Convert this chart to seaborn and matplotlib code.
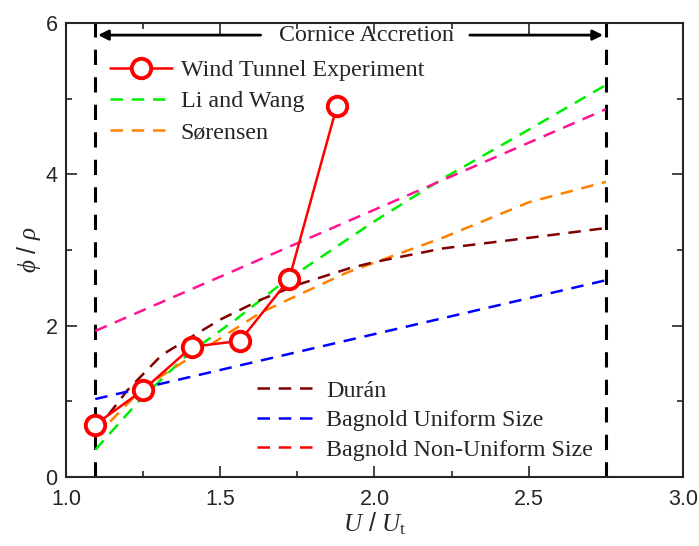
import matplotlib
matplotlib.use("Agg")
import matplotlib.pyplot as plt
import seaborn as sns
from matplotlib.lines import Line2D
from matplotlib.ticker import MultipleLocator, FormatStrFormatter

# wind tunnel measurements
exp_x = [1.094, 1.25, 1.408, 1.564, 1.723, 1.878]
exp_y = [0.69, 1.15, 1.72, 1.80, 2.61, 4.90]

# model curves
li_x = [1.095, 1.24, 1.40, 1.55, 1.70, 2.00, 2.22, 2.50, 2.75]
li_y = [0.36, 1.02, 1.64, 2.08, 2.56, 3.38, 3.94, 4.59, 5.18]

sor_x = [1.095, 1.25, 1.457, 1.63, 1.75, 1.91, 2.22, 2.50, 2.75]
sor_y = [0.53, 1.18, 1.72, 2.17, 2.40, 2.70, 3.16, 3.63, 3.90]

duran_x = [1.095, 1.20, 1.31, 1.39, 1.50, 1.63, 1.75, 1.92, 2.00, 2.22, 2.50, 2.75]
duran_y = [0.60, 1.15, 1.61, 1.81, 2.08, 2.34, 2.54, 2.76, 2.84, 3.02, 3.16, 3.29]

bag_u_x = [1.095, 2.75]
bag_u_y = [1.03, 2.60]

bag_nu_x = [1.095, 2.75]
bag_nu_y = [1.93, 4.86]

cornice_start, cornice_end = 1.095, 2.75

sns.set_theme(style="ticks")
plt.rcParams["font.family"] = ["Liberation Sans", "DejaVu Sans"]
plt.rcParams["mathtext.fontset"] = "custom"
plt.rcParams["mathtext.it"] = "Liberation Serif:italic"
plt.rcParams["mathtext.rm"] = "Liberation Serif"

serif = ["Liberation Serif", "DejaVu Serif"]
dash = (5, 3.5)

fig = plt.figure(figsize=(6.99, 5.46), dpi=100)
ax = fig.add_axes([0.0944, 0.1264, 0.8827, 0.8315])

sns.lineplot(x=li_x, y=li_y, ax=ax, color="#00ee00", lw=1.8)
ax.lines[-1].set_dashes(dash)
sns.lineplot(x=sor_x, y=sor_y, ax=ax, color="#ff8000", lw=1.8)
ax.lines[-1].set_dashes(dash)
sns.lineplot(x=duran_x, y=duran_y, ax=ax, color="#800000", lw=1.8)
ax.lines[-1].set_dashes(dash)
sns.lineplot(x=bag_u_x, y=bag_u_y, ax=ax, color="#0000ff", lw=1.8)
ax.lines[-1].set_dashes(dash)
sns.lineplot(x=bag_nu_x, y=bag_nu_y, ax=ax, color="#ff1493", lw=1.8)
ax.lines[-1].set_dashes(dash)
sns.lineplot(x=exp_x, y=exp_y, ax=ax, color="#ff0000", lw=1.8, marker="o",
             markersize=14, markerfacecolor="white", markeredgecolor="#ff0000",
             markeredgewidth=2.8)

# cornice accretion zone
for xv in (cornice_start, cornice_end):
    ax.axvline(xv, color="black", lw=2.2, dashes=(5, 4), zorder=1)
ax.annotate("", xy=(cornice_start, 5.84), xytext=(1.64, 5.84),
            arrowprops=dict(arrowstyle="-|>", color="black", lw=2, mutation_scale=15))
ax.annotate("", xy=(cornice_end, 5.84), xytext=(2.30, 5.84),
            arrowprops=dict(arrowstyle="-|>", color="black", lw=2, mutation_scale=15))
ax.text(1.975, 5.84, "Cornice Accretion", ha="center", va="center",
        fontsize=17.3, family=serif)

ax.set_xlim(1.0, 3.0)
ax.set_ylim(0, 6)
ax.xaxis.set_major_locator(MultipleLocator(0.5))
ax.xaxis.set_minor_locator(MultipleLocator(0.25))
ax.yaxis.set_major_locator(MultipleLocator(2))
ax.yaxis.set_minor_locator(MultipleLocator(1))
ax.xaxis.set_major_formatter(FormatStrFormatter("%.1f"))
ax.yaxis.set_major_formatter(FormatStrFormatter("%d"))
ax.tick_params(which="both", direction="in", top=True, right=True,
               labeltop=False, labelright=False, width=1.2)
ax.tick_params(which="major", length=8, labelsize=15.5)
ax.tick_params(axis="x", which="major", pad=9)
ax.tick_params(axis="y", which="major", pad=6)
ax.tick_params(which="minor", length=4)
for s in ax.spines.values():
    s.set_linewidth(1.5)

ax.set_xlabel(r"$U$ / $U_{\mathrm{t}}$", fontsize=18, labelpad=0)
ax.set_ylabel(r"$\phi$ / $\rho$", fontsize=18, labelpad=2)

h1 = [
    Line2D([], [], color="#ff0000", lw=1.8, marker="o", markersize=14,
           markerfacecolor="white", markeredgewidth=2.8),
    Line2D([], [], color="#00ee00", lw=1.8, dashes=dash),
    Line2D([], [], color="#ff8000", lw=1.8, dashes=dash),
]
leg1 = ax.legend(h1, ["Wind Tunnel Experiment", "Li and Wang", "S\u00f8rensen"],
                 loc="upper left", bbox_to_anchor=(0.036, 0.968), frameon=False,
                 prop=dict(family=serif, size=17.3), handlelength=2.6,
                 labelspacing=0.4, handletextpad=0.35)
ax.add_artist(leg1)

h2 = [
    Line2D([], [], color="#800000", lw=1.8, dashes=dash),
    Line2D([], [], color="#0000ff", lw=1.8, dashes=dash),
    Line2D([], [], color="#ff0000", lw=1.8, dashes=dash),
]
ax.legend(h2, ["Dur\u00e1n", "Bagnold Uniform Size", "Bagnold Non-Uniform Size"],
          loc="lower left", bbox_to_anchor=(0.275, -0.012), frameon=False,
          prop=dict(family=serif, size=17.3), handlelength=2.3,
          labelspacing=0.32, handletextpad=0.55)

fig.savefig("out.png", dpi=100)
